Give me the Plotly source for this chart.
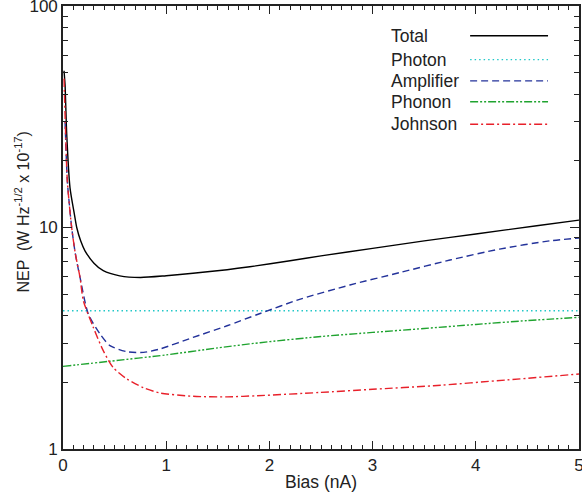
import plotly.graph_objects as go

# ---- data ----
total_x = [0.01, 0.02, 0.036, 0.068, 0.11, 0.133, 0.171, 0.213, 0.30, 0.39, 0.55, 0.75, 1.0, 1.26, 1.59, 1.81, 2.2, 2.5, 3.0, 3.5, 4.0, 4.59, 5.0]
total_y = [51, 44, 26.4, 15.1, 11.5, 10.0, 8.71, 7.85, 6.9, 6.38, 6.05, 5.95, 6.06, 6.22, 6.45, 6.65, 7.08, 7.45, 8.05, 8.7, 9.35, 10.18, 10.8]

photon_x = [0.0, 5.0]
photon_y = [4.21, 4.21]

amp_x = [0.02, 0.042, 0.061, 0.084, 0.12, 0.165, 0.245, 0.36, 0.455, 0.62, 0.78, 0.94, 1.26, 1.59, 1.91, 2.30, 2.78, 3.27, 3.75, 4.23, 4.72, 5.0]
amp_y = [30, 16.2, 12.8, 10.0, 7.6, 5.95, 4.07, 3.3, 2.93, 2.75, 2.73, 2.83, 3.19, 3.6, 4.09, 4.75, 5.5, 6.27, 7.13, 7.99, 8.71, 8.96]

phonon_x = [0.0, 0.455, 1.0, 1.5, 1.91, 2.5, 3.0, 3.5, 4.0, 4.5, 5.0]
phonon_y = [2.36, 2.49, 2.66, 2.86, 3.02, 3.22, 3.36, 3.5, 3.65, 3.8, 3.93]

johnson_x = [0.01, 0.022, 0.042, 0.084, 0.12, 0.165, 0.197, 0.294, 0.39, 0.487, 0.62, 0.78, 0.94, 1.26, 1.59, 1.88, 2.49, 3.0, 3.59, 4.3, 5.0]
johnson_y = [47, 30, 16.2, 10.0, 7.6, 5.95, 4.68, 3.54, 2.78, 2.33, 2.07, 1.89, 1.79, 1.73, 1.72, 1.74, 1.80, 1.86, 1.93, 2.05, 2.18]

series_names = ["Total", "Photon", "Amplifier", "Phonon", "Johnson"]
series_colors = ["#000000", "#22C8C8", "#23329A", "#1FA32F", "#E8202A"]
series_dash = ["solid", "1.5px,3px", "7px,4px", "8px,2px,2px,2px,2px,2px", "8px,3px,2px,3px"]
series_x = [total_x, photon_x, amp_x, phonon_x, johnson_x]
series_y = [total_y, photon_y, amp_y, phonon_y, johnson_y]

x_ticks = [0, 1, 2, 3, 4, 5]
y_ticks = [1, 10, 100]
y_minor = [2, 3, 4, 5, 6, 7, 8, 9, 20, 30, 40, 50, 60, 70, 80, 90]

fig = go.Figure()
for name, xs, ys, col, dash in zip(series_names, series_x, series_y, series_colors, series_dash):
    fig.add_trace(go.Scatter(
        x=xs, y=ys, mode="lines", name=name,
        line=dict(color=col, width=1.4, dash=dash, shape="spline", smoothing=0.7),
        showlegend=False, hoverinfo="skip"))

# custom legend: text on the left, line sample on the right
leg_rows_y = [0.933, 0.879, 0.831, 0.784, 0.733]  # paper coords
for name, col, dash, ly in zip(series_names, series_colors, series_dash, leg_rows_y):
    fig.add_annotation(xref="paper", yref="paper", x=0.632, y=ly, text=name,
                       showarrow=False, xanchor="left", yanchor="middle",
                       font=dict(size=17.5, color="#222222"))
    fig.add_shape(type="line", xref="paper", yref="paper",
                  x0=0.789, x1=0.940, y0=ly, y1=ly,
                  line=dict(color=col, width=1.4, dash=dash))

# y-axis title (placed as in the reference)
fig.add_annotation(xref="paper", yref="paper", x=-0.0785, y=0.535,
                   text="NEP  (W Hz<sup>-1/2</sup> x 10<sup>-17</sup>)",
                   textangle=-90, showarrow=False, xanchor="center", yanchor="middle",
                   font=dict(size=16, color="#222222"))

axis_font = dict(family="Liberation Sans, Arial, sans-serif", size=17, color="#222222")

fig.update_layout(
    width=582, height=498,
    margin=dict(l=63, r=3, t=6, b=49, autoexpand=False),
    paper_bgcolor="white", plot_bgcolor="white",
    font=dict(family="Liberation Sans, Arial, sans-serif", size=17, color="#222222"),
    xaxis=dict(
        range=[0, 5], tickvals=x_ticks, ticktext=[str(v) for v in x_ticks],
        ticks="inside", ticklen=8, tickwidth=1.2, tickcolor="#222222",
        showline=True, linecolor="#222222", linewidth=1.6, mirror="ticks",
        showgrid=False, zeroline=False, tickfont=axis_font, automargin=False,
        ticklabeloverflow="allow",
        minor=dict(dtick=0.1, ticks="inside", ticklen=4, tickwidth=1, tickcolor="#222222", showgrid=False),
        title=dict(text="Bias (nA)", font=dict(size=17.5, color="#222222"), standoff=2),
    ),
    yaxis=dict(
        type="log", range=[0, 2], tickvals=y_ticks, ticktext=["1", "10", "100"],
        ticks="inside", ticklen=9, tickwidth=1.2, tickcolor="#222222",
        showline=True, linecolor="#222222", linewidth=1.6, mirror="ticks",
        showgrid=False, zeroline=False, tickfont=axis_font, automargin=False,
        ticklabeloverflow="allow",
        minor=dict(tickvals=y_minor, ticks="inside", ticklen=5, tickwidth=1, tickcolor="#222222", showgrid=False),
    ),
)

fig.write_html("out.html", config={"displayModeBar": False},
               post_script="document.body.style.margin='0px';")
